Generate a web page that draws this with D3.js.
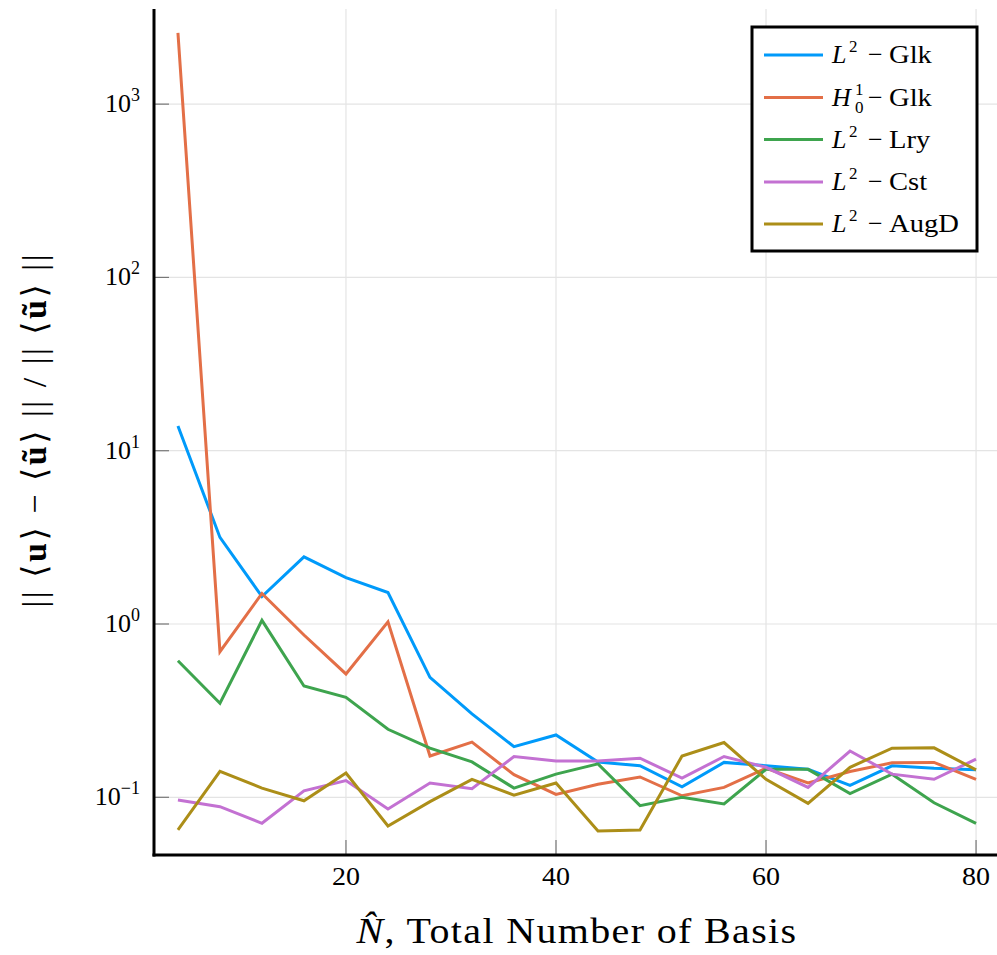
<!DOCTYPE html>
<html>
<head>
<meta charset="utf-8">
<script src="https://cdn.jsdelivr.net/npm/d3@7"></script>
<style>
html,body{margin:0;padding:0;background:#fff;}
svg{display:block;}
text{font-family:"Liberation Serif","DejaVu Serif",serif;fill:#000;}
</style>
</head>
<body>
<svg id="chart" width="997" height="955"></svg>
<script>
const nBasis = [4,8,12,16,20,24,28,32,36,40,44,48,52,56,60,64,68,72,76,80];
const l2Glk  = [13.9,3.16,1.44,2.44,1.85,1.52,0.492,0.303,0.196,0.229,0.160,0.152,0.115,0.159,0.152,0.145,0.117,0.152,0.147,0.144];
const h1Glk  = [2580,0.692,1.50,0.864,0.515,1.03,0.173,0.208,0.135,0.104,0.119,0.131,0.102,0.114,0.147,0.121,0.141,0.158,0.159,0.127];
const l2Lry  = [0.614,0.349,1.05,0.439,0.377,0.247,0.192,0.160,0.113,0.136,0.156,0.0895,0.100,0.0915,0.145,0.145,0.105,0.136,0.093,0.0708];
const l2Cst  = [0.0965,0.0883,0.0708,0.109,0.125,0.0856,0.121,0.112,0.172,0.162,0.162,0.168,0.129,0.172,0.149,0.114,0.185,0.136,0.127,0.166];
const l2AugD = [0.0648,0.141,0.113,0.0955,0.138,0.0683,0.0944,0.127,0.103,0.121,0.0639,0.0648,0.173,0.207,0.127,0.0923,0.149,0.192,0.193,0.144];

const seriesNames = ["L2-Glk","H10-Glk","L2-Lry","L2-Cst","L2-AugD"];
const seriesColors = ["#009AFA","#E36F47","#3EA44E","#C371D2","#AC8E18"];
const seriesValues = [l2Glk,h1Glk,l2Lry,l2Cst,l2AugD];

const xTicks = [20,40,60,80];
const yTicks = [0.1,1,10,100,1000];
const yTickExp = ["\u22121","0","1","2","3"];

(function(){
const svg = d3.select("#chart");
const pL = 154, pR = 1000, pT = 9, pB = 855;

const x = d3.scaleLinear().domain([1.72, 82.28]).range([pL, pR]);
const y = d3.scaleLog().domain([Math.pow(10,-1.333), Math.pow(10,3.549)]).range([pB, pT]);

// grid
const g = svg.append("g");
g.selectAll(".gx").data(xTicks).enter().append("line")
  .attr("x1", d=>x(d)).attr("x2", d=>x(d)).attr("y1", pT).attr("y2", pB)
  .attr("stroke","#e4e4e4").attr("stroke-width",1.2);
g.selectAll(".gy").data(yTicks).enter().append("line")
  .attr("y1", d=>y(d)).attr("y2", d=>y(d)).attr("x1", pL).attr("x2", pR)
  .attr("stroke","#e4e4e4").attr("stroke-width",1.2);

// tick marks
g.selectAll(".tx").data(xTicks).enter().append("line")
  .attr("x1", d=>x(d)).attr("x2", d=>x(d)).attr("y1", pB).attr("y2", pB-15)
  .attr("stroke","#777").attr("stroke-width",1.2);
g.selectAll(".ty").data(yTicks).enter().append("line")
  .attr("y1", d=>y(d)).attr("y2", d=>y(d)).attr("x1", pL).attr("x2", pL+15)
  .attr("stroke","#777").attr("stroke-width",1.2);

// lines
const line = d3.line().x((d,i)=>x(nBasis[i])).y(d=>y(d));
svg.append("clipPath").attr("id","clp").append("rect")
  .attr("x",pL).attr("y",pT).attr("width",pR-pL).attr("height",pB-pT);
seriesValues.forEach((vals,k)=>{
  svg.append("path").datum(vals).attr("d", line)
    .attr("fill","none").attr("stroke",seriesColors[k]).attr("stroke-width",3)
    .attr("stroke-linejoin","miter").attr("clip-path","url(#clp)");
});

// axes lines
svg.append("line").attr("x1",pL).attr("x2",pL).attr("y1",pT).attr("y2",pB+1.5)
  .attr("stroke","#000").attr("stroke-width",3);
svg.append("line").attr("x1",pL-1.5).attr("x2",997).attr("y1",pB).attr("y2",pB)
  .attr("stroke","#000").attr("stroke-width",3);

// tick labels
svg.selectAll(".xl").data(xTicks).enter().append("text")
  .attr("x", d=>x(d)).attr("y", 885).attr("text-anchor","middle")
  .attr("font-size",26).attr("textLength",28).attr("lengthAdjust","spacingAndGlyphs").text(d=>d);
yTicks.forEach((d,i)=>{
  const t = svg.append("text").attr("x",140).attr("y",y(d)+8).attr("text-anchor","end").attr("font-size",26);
  t.append("tspan").text("10");
  t.append("tspan").attr("dy",-11).attr("font-size",18).text(yTickExp[i]);
});

// x label
const xl = svg.append("text").attr("x",577).attr("y",943).attr("text-anchor","middle").attr("font-size",35)
  .attr("letter-spacing",1.2).attr("textLength",441).attr("lengthAdjust","spacingAndGlyphs");
xl.append("tspan").attr("font-style","italic").text("N\u0302");
xl.append("tspan").text(",  Total Number of Basis");

// y label
const yl = svg.append("text").attr("transform","translate(46,431) rotate(-90)")
  .attr("text-anchor","middle").attr("font-size",34)
  .attr("textLength",353).attr("lengthAdjust","spacing");
yl.append("tspan").text("|| \u27E8");
yl.append("tspan").attr("font-weight","bold").text("u");
yl.append("tspan").text("\u27E9 \u2212 \u27E8");
yl.append("tspan").attr("font-weight","bold").text("\u0169");
yl.append("tspan").text("\u27E9 || / || \u27E8");
yl.append("tspan").attr("font-weight","bold").text("\u0169");
yl.append("tspan").text("\u27E9 ||");

// legend
const lg = svg.append("g");
lg.append("rect").attr("x",752).attr("y",27).attr("width",225).attr("height",224)
  .attr("fill","#fff").attr("stroke","#000").attr("stroke-width",3);
const legY = [55,97.5,139.5,182,224];
const suffix = ["Glk","Glk","Lry","Cst","AugD"];
seriesNames.forEach((nm,k)=>{
  lg.append("line").attr("x1",764).attr("x2",823).attr("y1",legY[k]).attr("y2",legY[k])
    .attr("stroke",seriesColors[k]).attr("stroke-width",3);
  const base = legY[k]+8;
  if(k===1){
    lg.append("text").attr("x",832).attr("y",base).attr("font-size",26).attr("font-style","italic").text("H");
    lg.append("text").attr("x",855).attr("y",base-11).attr("font-size",17).text("1");
    lg.append("text").attr("x",855).attr("y",base+7).attr("font-size",17).text("0");
  } else {
    lg.append("text").attr("x",832).attr("y",base).attr("font-size",26).attr("font-style","italic").text("L");
    lg.append("text").attr("x",849).attr("y",base-11).attr("font-size",17).text("2");
  }
  lg.append("text").attr("x",868).attr("y",base).attr("font-size",26).text("\u2212");
  const sfx = lg.append("text").attr("x",889).attr("y",base).attr("font-size",26).text(suffix[k]);
  const w = sfx.node().getComputedTextLength();
  sfx.attr("textLength", w*1.1).attr("lengthAdjust","spacingAndGlyphs");
});
})();
</script>
</body>
</html>
